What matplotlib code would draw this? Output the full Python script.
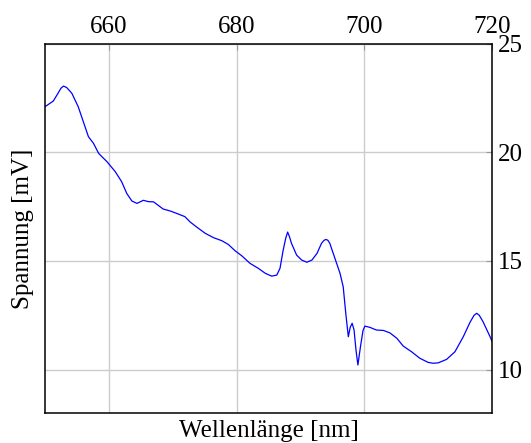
import matplotlib
matplotlib.use('Agg')
import matplotlib.pyplot as plt

# values
wavelength = [650.0, 651.3, 652.0, 652.5, 652.9, 653.4, 654.2, 655.2, 656.0, 656.8,
              657.6, 658.4, 659.7, 661.0, 662.0, 662.8, 663.6, 664.4, 665.4, 666.2,
              667.0, 668.0, 668.5, 669.6, 670.6, 671.9, 672.7, 673.8, 675.1, 676.4,
              677.7, 678.7, 679.8, 680.8, 682.1, 683.4, 684.5, 685.5, 686.3, 686.8,
              687.3, 687.7, 688.0, 688.3, 688.6, 689.4, 690.2, 691.0, 691.8, 692.6,
              693.3, 693.7, 694.0, 694.3, 694.6, 695.4, 696.2, 696.7, 697.1, 697.5,
              697.8, 698.1, 698.4, 698.7, 699.0, 699.4, 699.8, 700.1, 700.9, 701.9,
              703.0, 704.0, 705.1, 706.1, 707.4, 708.7, 710.0, 710.8, 711.6, 712.9,
              714.2, 715.5, 716.6, 717.2, 717.6, 718.0, 718.6, 719.7, 720.0]
voltage = [22.10, 22.36, 22.70, 22.95, 23.05, 22.98, 22.72, 22.10, 21.41, 20.72,
           20.41, 19.95, 19.57, 19.11, 18.65, 18.11, 17.76, 17.65, 17.79, 17.73,
           17.72, 17.50, 17.39, 17.30, 17.19, 17.04, 16.80, 16.55, 16.27, 16.07,
           15.93, 15.76, 15.46, 15.24, 14.89, 14.66, 14.43, 14.30, 14.35, 14.66,
           15.50, 16.05, 16.33, 16.10, 15.81, 15.27, 15.04, 14.94, 15.04, 15.35,
           15.81, 15.95, 15.99, 15.95, 15.81, 15.12, 14.43, 13.81, 12.59, 11.51,
           11.95, 12.13, 11.82, 10.90, 10.21, 11.05, 11.80, 12.00, 11.94, 11.82,
           11.80, 11.69, 11.44, 11.08, 10.82, 10.52, 10.33, 10.29, 10.31, 10.47,
           10.82, 11.51, 12.20, 12.50, 12.59, 12.50, 12.20, 11.51, 11.30]

x_ticks = [660, 680, 700, 720]
y_ticks = [10, 15, 20, 25]

plt.rcParams['font.family'] = 'Liberation Serif'
plt.rcParams['font.size'] = 18

fig = plt.figure(figsize=(5.31, 4.43), dpi=100)
ax = fig.add_axes([45/531, 1 - 413/443, 447/531, 369.3/443])

ax.plot(wavelength, voltage, color='#0000ff', lw=0.9)

ax.set_xlim(650, 720)
ax.set_ylim(8, 25)
ax.set_xticks(x_ticks)
ax.set_yticks(y_ticks)
ax.grid(True, color='#cccccc', lw=1)
ax.set_axisbelow(True)

ax.xaxis.tick_top()
ax.yaxis.tick_right()
ax.tick_params(direction='in', length=4, color='#999999', pad=4)
for s in ax.spines.values():
    s.set_linewidth(1.1)

ax.set_xlabel('Wellenlänge [nm]', labelpad=5)
ax.xaxis.set_label_position('bottom')
ax.set_ylabel('Spannung [mV]', labelpad=8)
ax.yaxis.set_label_position('left')

fig.savefig('out.png', dpi=100)
